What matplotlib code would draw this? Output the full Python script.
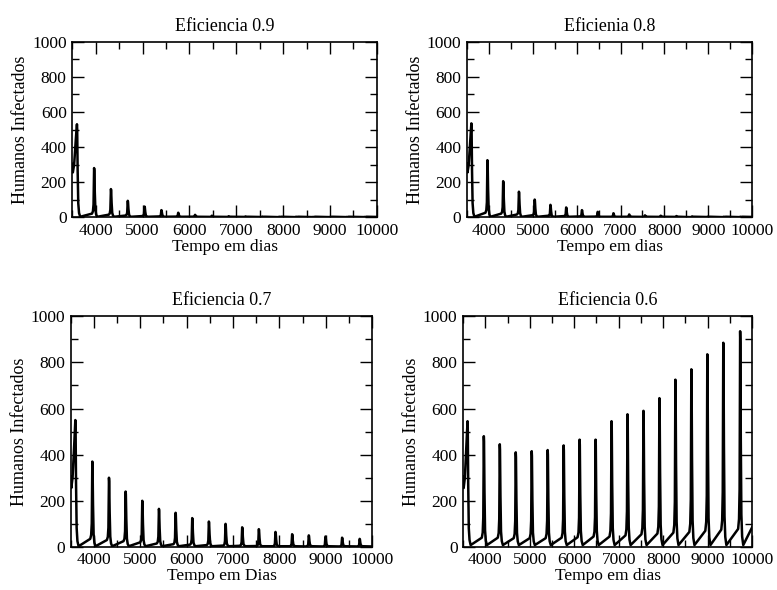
import matplotlib.pyplot as plt
import numpy as np
from matplotlib.ticker import MultipleLocator

plt.rcParams['font.family'] = ['Liberation Serif', 'DejaVu Serif']

# pontos iniciais (transiente antes do primeiro pico)
inicio_dias = [3500, 3512, 3540, 3575]
inicio_val = [305, 255, 300, 440]

# dias dos picos de cada ciclo
picos_dias = [3600, 3966, 4325, 4684, 5043, 5402, 5761, 6120, 6479, 6838,
              7197, 7556, 7915, 8274, 8633, 8992, 9351, 9730]

# altura dos picos por eficiencia
picos_09 = [530, 280, 160, 93, 60, 40, 25, 13, 8, 5, 4, 3, 2, 2, 1, 1, 1, 1]
picos_08 = [535, 325, 205, 145, 100, 70, 55, 40, 30, 22, 15, 10, 8, 6, 4, 3, 2, 2]
picos_07 = [550, 370, 300, 240, 200, 165, 148, 125, 110, 100, 85, 77, 65, 55,
            50, 45, 40, 35]
picos_06 = [545, 480, 445, 410, 415, 420, 440, 465, 465, 545, 575, 590, 645,
            725, 770, 835, 885, 935]

# valor logo antes de cada pico (depois do primeiro)
pre_09 = [20, 14, 9, 6, 4, 3, 2, 1, 1, 1, 0, 0, 0, 0, 0, 0, 0]
pre_08 = [25, 20, 15, 11, 8, 6, 4, 3, 2, 2, 1, 1, 1, 0, 0, 0, 0]
pre_07 = [35, 30, 25, 20, 15, 12, 10, 8, 6, 5, 4, 3, 3, 2, 2, 2, 2]
pre_06 = [40, 40, 38, 38, 38, 40, 42, 45, 45, 50, 55, 58, 62, 65, 70, 75, 78]

# valor minimo depois de cada pico e valor no fim da serie
vale_09, fim_09 = 2, 1
vale_08, fim_08 = 2, 1
vale_07, fim_07 = 3, 2
vale_06, fim_06 = 8, 85

paineis = [
    ('Eficiencia 0.9', 'Tempo em dias', picos_09, pre_09, vale_09, fim_09),
    ('Eficienia 0.8', 'Tempo em dias', picos_08, pre_08, vale_08, fim_08),
    ('Eficiencia 0.7', 'Tempo em Dias', picos_07, pre_07, vale_07, fim_07),
    ('Eficiencia 0.6', 'Tempo em dias', picos_06, pre_06, vale_06, fim_06),
]

posicoes = [
    [0.093, 0.632, 0.392, 0.297],
    [0.601, 0.632, 0.367, 0.297],
    [0.091, 0.073, 0.388, 0.391],
    [0.596, 0.073, 0.372, 0.391],
]


def serie(picos, pre, vale, fim):
    # cada ciclo: rampa lenta, subida rapida ate o pico e queda com cauda
    x = list(inicio_dias)
    y = list(inicio_val)
    for i, (d, h) in enumerate(zip(picos_dias, picos)):
        if i > 0:
            p0 = pre[i - 1]
            x += [d - 45, d - 25, d - 12]
            y += [p0, p0 + 0.05 * (h - p0), p0 + 0.2 * (h - p0)]
        x += [d, d + 5, d + 15, d + 28, d + 45, d + 70]
        y += [h, h * 0.95, h * 0.5, h * 0.15, vale + 0.04 * h, vale]
    x.append(10000)
    y.append(fim)
    return x, y


fig = plt.figure(figsize=(7.77, 5.90), dpi=100)

for pos, (titulo, xlab, picos, pre, vale, fim) in zip(posicoes, paineis):
    ax = fig.add_axes(pos)
    x, y = serie(picos, pre, vale, fim)
    ax.plot(x, y, color='black', linewidth=1.8, solid_joinstyle='round')
    ax.set_xlim(3500, 10000)
    ax.set_ylim(0, 1000)
    ax.xaxis.set_major_locator(MultipleLocator(1000))
    ax.xaxis.set_minor_locator(MultipleLocator(500))
    ax.yaxis.set_major_locator(MultipleLocator(200))
    ax.yaxis.set_minor_locator(MultipleLocator(100))
    ax.tick_params(which='both', direction='in', top=True, right=True,
                   labelsize=12.5, width=1.0, pad=4)
    ax.tick_params(which='major', length=8.5)
    ax.tick_params(which='minor', length=5)
    for s in ax.spines.values():
        s.set_linewidth(1.2)
    ax.set_title(titulo, fontsize=13, pad=8)
    ax.set_xlabel(xlab, fontsize=12.5, labelpad=0)
    ax.set_ylabel('Humanos Infectados', fontsize=13, labelpad=2)

fig.savefig('out.png', dpi=100)
